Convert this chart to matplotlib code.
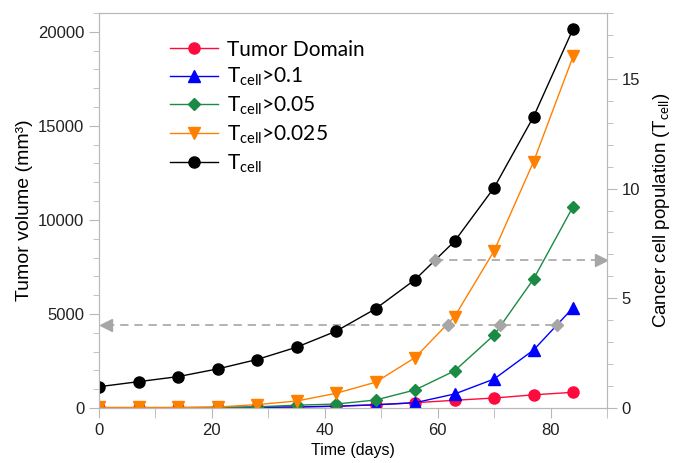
import numpy as np
import matplotlib
matplotlib.use("Agg")
import matplotlib.pyplot as plt
from matplotlib.legend_handler import HandlerLine2D
from matplotlib.ticker import MultipleLocator

plt.rcParams['font.family'] = ['Liberation Sans', 'DejaVu Sans']
plt.rcParams['mathtext.fontset'] = 'custom'
plt.rcParams['mathtext.rm'] = 'Lato'

# data
days = [0, 7, 14, 21, 28, 35, 42, 49, 56, 63, 70, 77, 84]
tumor_domain = [5, 10, 15, 25, 40, 60, 100, 170, 280, 410, 530, 700, 835]
tcell_01 = [5, 8, 12, 18, 30, 50, 90, 170, 280, 745, 1540, 3085, 5335]
tcell_005 = [5, 10, 18, 30, 60, 150, 210, 425, 960, 1975, 3880, 6860, 10710]
tcell_0025 = [30, 30, 30, 50, 180, 370, 780, 1370, 2680, 4860, 8350, 13100, 18690]
tcell_pop = [0.97, 1.20, 1.43, 1.78, 2.21, 2.77, 3.50, 4.52, 5.85, 7.60, 10.04, 13.28, 17.28]

# threshold guides
vol_level = 4400
vol_span = [1.2, 81.2]
vol_cross = [61.9, 71.1, 81.2]
pop_level = 6.76
pop_span = [59.6, 88.9]
pop_cross = [59.6]

labels = ['Tumor Domain', r'T$_{\mathrm{cell}}$>0.1', r'T$_{\mathrm{cell}}$>0.05',
          r'T$_{\mathrm{cell}}$>0.025', r'T$_{\mathrm{cell}}$']

grey = '#a6a6a6'
spine_c = '#b8b8b8'


class EndMarker(HandlerLine2D):
    # marker sits at the right end of the legend line
    def get_xdata(self, legend, xdescent, ydescent, width, height, fontsize):
        xdata, _ = super().get_xdata(legend, xdescent, ydescent, width, height, fontsize)
        return xdata, np.array([xdata[-1] - 4])


fig = plt.figure(figsize=(6.81, 4.63), dpi=100)
ax = fig.add_axes([0.1454, 0.1188, 0.7459, 0.8531])
ax2 = ax.twinx()

h1, = ax.plot(days, tumor_domain, '-o', color='#ff0a3c', lw=1, ms=8, label=labels[0])
h2, = ax.plot(days, tcell_01, '-^', color='#0000ff', lw=1, ms=8.5, label=labels[1])
h3, = ax.plot(days, tcell_005, '-D', color='#1a8a45', lw=1, ms=6, label=labels[2])
h4, = ax.plot(days, tcell_0025, '-v', color='#ff8000', lw=1, ms=8.5, label=labels[3])

ax.plot(vol_span, [vol_level, vol_level], ls=(0, (5, 3.5)), color=grey, lw=1.2)
ax.plot([vol_span[0]], [vol_level], '<', color=grey, ms=8)
ax.plot(vol_cross, [vol_level] * len(vol_cross), 'D', color=grey, ms=6, zorder=5)

h5, = ax2.plot(days, tcell_pop, '-o', color='black', lw=1, ms=8, label=labels[4])
ax2.plot(pop_span, [pop_level, pop_level], ls=(0, (5, 3.5)), color=grey, lw=1.2)
ax2.plot([pop_span[1]], [pop_level], '>', color=grey, ms=8)
ax2.plot(pop_cross, [pop_level] * len(pop_cross), 'D', color=grey, ms=6, zorder=5)

ax.set_xlim(0, 90)
ax.set_ylim(0, 21000)
ax2.set_ylim(0, 18)

ax.xaxis.set_major_locator(MultipleLocator(20))
ax.xaxis.set_minor_locator(MultipleLocator(10))
ax.yaxis.set_major_locator(MultipleLocator(5000))
ax.yaxis.set_minor_locator(MultipleLocator(1000))
ax2.yaxis.set_major_locator(MultipleLocator(5))
ax2.yaxis.set_minor_locator(MultipleLocator(1))

for a in (ax, ax2):
    for s in a.spines.values():
        s.set_color(spine_c)
    a.tick_params(which='major', length=7, color=spine_c, labelsize=12, labelcolor='#222222')
    a.tick_params(which='minor', length=4, color=spine_c)
ax.tick_params(axis='x', which='minor', length=7)

ax.set_xlabel('Time (days)', fontsize=11.5, labelpad=4)
ax.set_ylabel('Tumor volume (mm³)', fontsize=14, labelpad=4)
ax2.set_ylabel(r'Cancer cell population (T$_{\mathrm{cell}}$)', fontsize=13.5, labelpad=8)

leg = ax2.legend(handles=[h1, h2, h3, h4, h5], loc='upper left',
                 bbox_to_anchor=(0.222, 0.955), bbox_transform=fig.transFigure,
                 frameon=False, handlelength=2.3, handletextpad=0.45, labelspacing=0.3,
                 prop={'family': 'Lato', 'size': 15},
                 handler_map={matplotlib.lines.Line2D: EndMarker(numpoints=1)})

fig.savefig('out.png', dpi=100)
